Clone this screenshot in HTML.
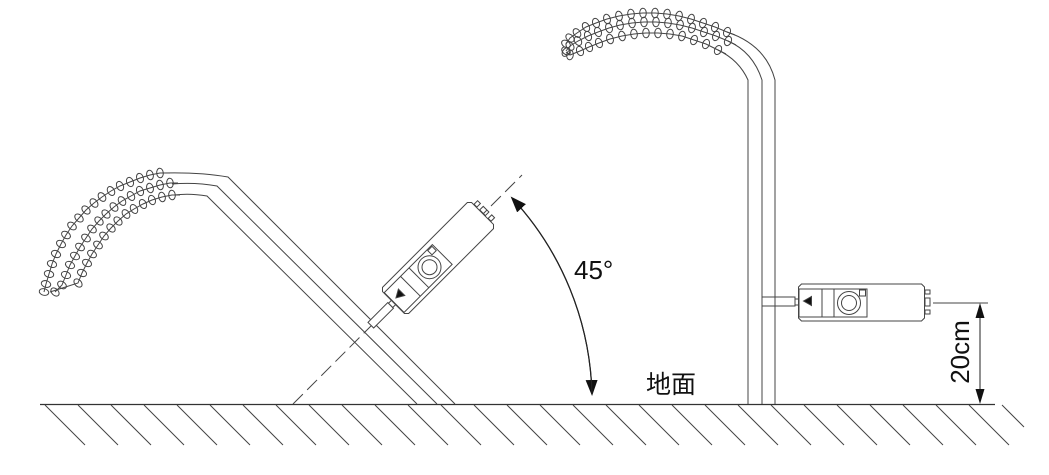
<!DOCTYPE html>
<html><head><meta charset="utf-8"><style>
html,body{margin:0;padding:0;background:#fff;}
svg{display:block;}
text{font-family:"Liberation Sans","Noto Sans CJK SC",sans-serif;fill:#111;}
</style></head><body>
<svg width="1049" height="475" viewBox="0 0 1049 475" xmlns="http://www.w3.org/2000/svg">
<defs>
<marker id="e" markerUnits="userSpaceOnUse" markerWidth="14" markerHeight="14" refX="7" refY="7" orient="auto">
<ellipse cx="7" cy="7" rx="3.3" ry="4.8" fill="none" stroke="#444" stroke-width="1"/>
</marker>
<marker id="ah" markerUnits="userSpaceOnUse" markerWidth="16" markerHeight="12" refX="14" refY="6" orient="auto">
<path d="M0,0 L16,6 L0,12 Z" fill="#111"/>
</marker>
<g id="sensor">
<path d="M-60,-18.5 H60 L63,-15.5 V15.5 L60,18.5 H-60 L-63,15.5 V-15.5 Z" fill="#fff" stroke="#444" stroke-width="1"/>
<rect x="-62.5" y="-13.5" width="68" height="28" fill="none" stroke="#444"/>
<line x1="-39.5" y1="-13.5" x2="-39.5" y2="14.5" stroke="#444"/>
<line x1="-27.5" y1="-13.5" x2="-27.5" y2="14.5" stroke="#444"/>
<circle cx="-12.5" cy="0.5" r="11.5" fill="none" stroke="#444"/>
<circle cx="-12.5" cy="0.5" r="7.5" fill="none" stroke="#444"/>
<rect x="-2" y="-12.5" width="6" height="6" fill="none" stroke="#444"/>
<path d="M-58,-1.5 L-50,-6 L-50,3 Z" fill="#111"/>
<rect x="63.5" y="-12.5" width="5" height="4" fill="none" stroke="#444"/>
<rect x="63.5" y="-4.5" width="5" height="8" fill="none" stroke="#444"/>
<rect x="63.5" y="7.5" width="5" height="4" fill="none" stroke="#444"/>
</g>
</defs>

<g stroke="#444" stroke-width="1" fill="none">
<!-- ground -->
<line x1="40" y1="404.5" x2="995" y2="404.5" stroke="#333" stroke-width="1.3"/>
<path d="M45,405 L85,445 M78,405 L118,445 M111,405 L151,445 M144,405 L184,445 M177,405 L217,445 M210,405 L250,445 M243,405 L283,445 M276,405 L316,445 M309,405 L349,445 M342,405 L382,445 M375,405 L415,445 M408,405 L448,445 M441,405 L481,445 M474,405 L514,445 M507,405 L547,445 M540,405 L580,445 M573,405 L613,445 M606,405 L646,445 M639,405 L679,445 M672,405 L712,445 M705,405 L745,445 M738,405 L778,445 M771,405 L811,445 M804,405 L844,445 M837,405 L877,445 M870,405 L910,445 M903,405 L943,445 M936,405 L976,445 M969,405 L1009,445 M1002,405 L1024,427"/>

<!-- left plant stems -->
<path d="M455,404 L228,177 Q200,172 162,173"/>
<path d="M437,404 L217,186 Q195,182 172,184"/>
<path d="M417,404 L207,196 Q190,193 174,195"/>
<polyline marker-mid="url(#e)" marker-end="url(#e)" points="170,173 160,173 150,175 140,178 130,182 120,186 111,191 102,197 94,203 86,210 79,218 72,226 66,235 61,244 56,254 52,264 49,274 46,284 44,292"/>
<polyline marker-mid="url(#e)" marker-end="url(#e)" points="178,183 170,183 160,185 150,188 140,191 131,196 122,201 114,207 106,214 99,221 92,229 86,238 80,247 75,256 70,265 66,275 62,285 55,292"/>
<polyline marker-mid="url(#e)" points="180,195 172,195 162,197 152,200 143,204 134,209 126,214 118,221 111,228 104,236 98,245 92,254 87,263 82,273 78,283 50,292"/>

<!-- left sensor axis dashed -->
<line x1="293" y1="404" x2="522" y2="175" stroke-dasharray="14,6"/>
<!-- left sensor connector -->
<g transform="translate(438,258) rotate(-45)">
<rect x="-95" y="-4" width="28" height="8" fill="#fff"/>
<rect x="-67" y="-3" width="5" height="6" fill="#fff"/>
<use href="#sensor"/>
</g>

<!-- angle arc -->
<path d="M512,198 A300,300 0 0 1 592,394" stroke="#222" stroke-width="1.2" marker-end="url(#ah)"/>
<path d="M592,394 A300,300 0 0 0 512,198" stroke="#222" stroke-width="1.2" marker-end="url(#ah)"/>

<!-- right plant -->
<path d="M775,404 V80 Q766,45 727,32"/>
<path d="M762,404 V80 Q753,52 728,41"/>
<path d="M748,404 V80 Q739,60 718,50"/>
<polyline marker-mid="url(#e)" marker-end="url(#e)" points="735,35 727,32 715,27 703,23 691,19 679,16 667,14 655,13 643,13 631,14 619,16 607,19 596,23 586,27 577,33 570,38 566,44"/>
<polyline marker-mid="url(#e)" marker-end="url(#e)" points="736,45 728,41 716,36 704,32 692,28 680,25 668,23 656,22 644,22 632,23 620,25 609,28 598,32 588,36 578,41 570,46 566,51"/>
<polyline marker-mid="url(#e)" marker-end="url(#e)" points="726,54 718,50 706,44 694,40 682,36 670,34 658,33 646,33 634,34 622,36 610,39 599,43 589,47 580,51 570,55 566,52"/>

<!-- right sensor connector -->
<rect x="762" y="297" width="33" height="9" fill="#fff"/>
<line x1="775" y1="297" x2="775" y2="306"/>
<rect x="795" y="299" width="4" height="6" fill="#fff"/>
<use href="#sensor" transform="translate(861.5,302.5)"/>

<!-- dimension -->
<line x1="933" y1="303" x2="988" y2="303"/>
<line x1="980" y1="310" x2="980" y2="397" stroke="#222"/>
</g>
<path d="M980,303 L975.5,318 L984.5,318 Z" fill="#111"/>
<path d="M980,404 L975.5,389 L984.5,389 Z" fill="#111"/>

<text x="574" y="279" font-size="26">45°</text>
<text x="646" y="393" font-size="25">地面</text>
<text transform="translate(969,352) rotate(-90)" text-anchor="middle" font-size="26">20cm</text>
</svg>
</body></html>
